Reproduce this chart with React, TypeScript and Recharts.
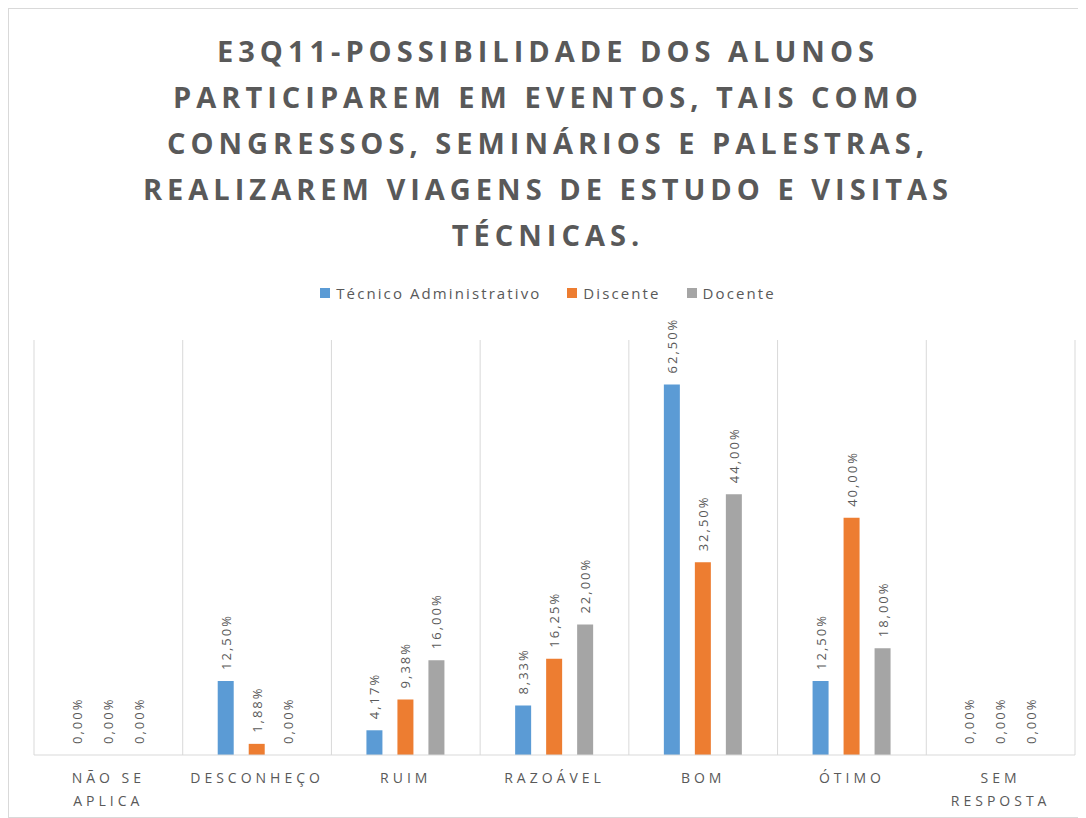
import React from 'react';
import { BarChart, Bar, XAxis, YAxis, CartesianGrid, LabelList } from 'recharts';

const categories = ['NÃO SE\nAPLICA', 'DESCONHEÇO', 'RUIM', 'RAZOÁVEL', 'BOM', 'ÓTIMO', 'SEM\nRESPOSTA'];
const tecnicoValues = [0, 12.5, 4.17, 8.33, 62.5, 12.5, 0];
const discenteValues = [0, 1.88, 9.38, 16.25, 32.5, 40, 0];
const docenteValues = [0, 0, 16, 22, 44, 18, 0];

const titleLines = [
  'E3Q11-POSSIBILIDADE DOS ALUNOS',
  'PARTICIPAREM EM EVENTOS, TAIS COMO',
  'CONGRESSOS, SEMINÁRIOS E PALESTRAS,',
  'REALIZAREM VIAGENS DE ESTUDO E VISITAS',
  'TÉCNICAS.',
];

const series = [
  { key: 'tecnico', name: 'Técnico Administrativo', color: '#5B9BD5' },
  { key: 'discente', name: 'Discente', color: '#ED7D31' },
  { key: 'docente', name: 'Docente', color: '#A5A5A5' },
];

const data = categories.map((cat, i) => ({
  cat,
  tecnico: tecnicoValues[i],
  discente: discenteValues[i],
  docente: docenteValues[i],
}));

const FONT = '"Open Sans", sans-serif';
const TEXT = '#595959';

const fmt = (v: number) => v.toFixed(2).replace('.', ',') + '%';

const CategoryTick = (props: any) => {
  const { x, y, payload } = props;
  const lines = String(payload.value).split('\n');
  return (
    <g>
      {lines.map((line, i) => (
        <text
          key={i}
          x={x}
          y={y + 14 + i * 23}
          textAnchor="middle"
          dominantBaseline="central"
          fill={TEXT}
          fontSize={14}
          fontFamily={FONT}
          style={{ letterSpacing: 4 }}
        >
          {line}
        </text>
      ))}
    </g>
  );
};

const BarLabel = (props: any) => {
  const { x, y, width, height, value } = props;
  const cx = x + width / 2;
  // zero-value bars still get a label, sitting on the baseline
  const top = Math.min(y, y + height);
  const ty = top - 11;
  return (
    <text
      x={cx}
      y={ty}
      transform={`rotate(-90, ${cx}, ${ty})`}
      textAnchor="start"
      dominantBaseline="central"
      fill={TEXT}
      fontSize={13}
      fontFamily={FONT}
      style={{ letterSpacing: 2 }}
    >
      {fmt(value)}
    </text>
  );
};

const App: React.FC = () => {
  return (
    <div
      style={{
        position: 'relative',
        width: 1078,
        height: 810,
        boxSizing: 'border-box',
        border: '1px solid #d9d9d9',
        background: '#fff',
      }}
    >
      <div style={{ position: 'absolute', left: -1, top: 19, width: 1080, textAlign: 'center' }}>
        {titleLines.map((line) => (
          <div
            key={line}
            style={{
              fontFamily: FONT,
              fontWeight: 700,
              fontSize: 29,
              letterSpacing: 5,
              color: TEXT,
              lineHeight: '46px',
            }}
          >
            {line}
          </div>
        ))}
      </div>

      <div
        style={{
          position: 'absolute',
          left: -1,
          top: 274,
          width: 1080,
          display: 'flex',
          justifyContent: 'center',
          gap: 26,
          fontFamily: FONT,
          fontSize: 15,
          letterSpacing: 2.1,
          color: TEXT,
        }}
      >
        {series.map((s) => (
          <div key={s.key} style={{ display: 'flex', alignItems: 'center' }}>
            <span style={{ display: 'inline-block', width: 10, height: 10, background: s.color, marginRight: 6 }} />
            <span>{s.name}</span>
          </div>
        ))}
      </div>

      <div style={{ position: 'absolute', left: -1, top: -1 }}>
        <BarChart
          width={1078}
          height={810}
          data={data}
          margin={{ top: 332, right: 11, bottom: 8, left: 26 }}
          barSize={16}
          barGap={15}
        >
          <CartesianGrid
            horizontal={false}
            stroke="#d9d9d9"
            verticalCoordinatesGenerator={({ offset }: any) =>
              categories.concat(['']).map((_, i) => offset.left + (i * offset.width) / categories.length)
            }
          />
          <XAxis
            dataKey="cat"
            interval={0}
            tickLine={false}
            axisLine={{ stroke: '#d9d9d9' }}
            height={55}
            tick={<CategoryTick />}
          />
          <YAxis hide domain={[0, 70]} />
          {series.map((s) => (
            <Bar
              key={s.key}
              dataKey={s.key}
              name={s.name}
              fill={s.color}
              minPointSize={0.01}
              isAnimationActive={false}
            >
              <LabelList dataKey={s.key} content={<BarLabel />} />
            </Bar>
          ))}
        </BarChart>
      </div>
    </div>
  );
};

export default App;
